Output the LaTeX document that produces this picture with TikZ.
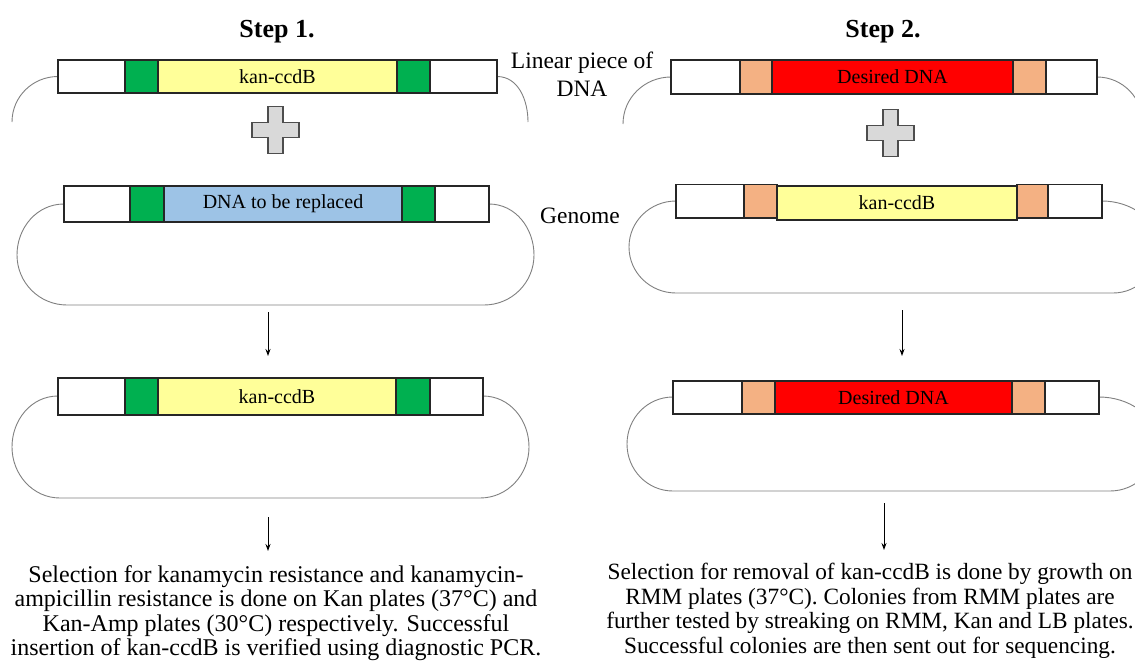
\documentclass[tikz,border=0pt]{standalone}
\usepackage{fontspec}
\setmainfont{Liberation Serif}
\usetikzlibrary{arrows.meta}
\definecolor{greenc}{HTML}{00B050}
\definecolor{yellowc}{HTML}{FFFF99}
\definecolor{bluec}{HTML}{9DC3E6}
\definecolor{tanc}{HTML}{F4B183}
\definecolor{redc}{HTML}{FF0000}
\definecolor{plusfill}{HTML}{D9D9D9}
\definecolor{plusline}{HTML}{4D4D4D}
\definecolor{segline}{HTML}{262626}
\definecolor{loopc}{HTML}{808080}
\newcommand\seg[7]{%
  \node[segbox, fill=#6, minimum width={(#3)-(#2)}, minimum height={(#5)-(#4)}]
    (#1) at ({((#2)+(#3))/2},{((#4)+(#5))/2}) {#7};}
\newcommand\plusshape[2]{%
  \draw[plusst] (#1-23.5,#2-7.5) -- (#1-7.5,#2-7.5) -- (#1-7.5,#2-23.5) -- (#1+7.5,#2-23.5)
    -- (#1+7.5,#2-7.5) -- (#1+23.5,#2-7.5) -- (#1+23.5,#2+7.5) -- (#1+7.5,#2+7.5)
    -- (#1+7.5,#2+23.5) -- (#1-7.5,#2+23.5) -- (#1-7.5,#2+7.5) -- (#1-23.5,#2+7.5) -- cycle;}
\begin{document}
\begin{tikzpicture}[x=1pt,y=-1pt,
  segbox/.style={draw=segline, line width=1.3pt, inner sep=0pt, outer sep=0pt, font=\fontsize{20}{22}\selectfont},
  loopline/.style={draw=loopc, line width=0.9pt},
  plusst/.style={draw=plusline, fill=plusfill, line width=1.3pt, line join=miter},
  arr/.style={draw=black, line width=1pt, -{Stealth[length=7pt,width=5pt]}},
  title/.style={font=\fontsize{26}{28}\selectfont\bfseries, anchor=base},
  side/.style={font=\fontsize{23.5}{27.5}\selectfont, align=center},
  caption/.style={font=\fontsize{24}{24.6}\selectfont, align=center, anchor=north, inner sep=0pt},
  captionb/.style={font=\fontsize{23.3}{24.6}\selectfont, align=center, anchor=north, inner sep=0pt}]
\useasboundingbox (0,0) rectangle (1135,667);
\fill[white] (0,0) rectangle (1135,667);

% titles
\node[title] (t1) at (277,37) {Step 1.};
\node[title] (t2) at (883,37) {Step 2.};
\node[side] (lin) at (582,74) {Linear piece of\\DNA};
\node[side] (gen) at (580,216) {Genome};

% ---------- Step 1, linear piece
\draw[loopline] (58,76.5) to[out=180,in=90] (12,122);
\draw[loopline] (497,76.5) to[out=0,in=90] (528,122);
\seg{s1a-l}{58}{125}{60}{93}{white}{}
\seg{s1a-fl}{125}{158}{60}{93}{greenc}{}
\seg{s1a-fr}{397}{430}{60}{93}{greenc}{}
\seg{s1a-r}{430}{497}{60}{93}{white}{}
\seg{s1a-m}{158}{397}{60}{93}{yellowc}{kan-ccdB}
\plusshape{275.5}{130}

% ---------- Step 1, genome
\draw[loopline] (64,204) to[out=180,in=90] (17,255) to[out=-90,in=180] (67,305)
  -- (484,305) to[out=0,in=-90] (534,255) to[out=90,in=0] (489,204);
\seg{s1b-l}{64}{130}{186}{222}{white}{}
\seg{s1b-fl}{130}{164}{186}{222}{greenc}{}
\seg{s1b-fr}{402}{435}{186}{222}{greenc}{}
\seg{s1b-r}{435}{489}{186}{222}{white}{}
\seg{s1b-m}{164}{402}{186}{222}{bluec}{DNA to be replaced}

\coordinate (a1s) at (268,312);
\coordinate (a1e) at (268,356);
\draw[arr] (a1s) -- (a1e);

% ---------- Step 1, result
\draw[loopline] (58,396) to[out=180,in=90] (12,447) to[out=-90,in=180] (60,498)
  -- (480,498) to[out=0,in=-90] (529,447) to[out=90,in=0] (483,396);
\seg{s1c-l}{58}{125}{378}{415}{white}{}
\seg{s1c-fl}{125}{158}{378}{415}{greenc}{}
\seg{s1c-fr}{396}{430}{378}{415}{greenc}{}
\seg{s1c-r}{430}{483}{378}{415}{white}{}
\seg{s1c-m}{158}{396}{378}{415}{yellowc}{kan-ccdB}

\coordinate (a2s) at (268,517);
\coordinate (a2e) at (268,551);
\draw[arr] (a2s) -- (a2e);

\node[caption] (c1) at (276,565) {Selection for kanamycin resistance and kanamycin-\\ampicillin resistance is done on Kan plates (37°C) and\\Kan-Amp plates (30°C) respectively. Successful\\insertion of kan-ccdB is verified using diagnostic PCR.};

% ---------- Step 2, linear piece
\draw[loopline] (671,77) to[out=180,in=90] (623,124);
\draw[loopline] (1097,77) to[out=0,in=90] (1143,124);
\seg{s2a-l}{671}{740}{60}{94}{white}{}
\seg{s2a-fl}{740}{772}{60}{94}{tanc}{}
\seg{s2a-fr}{1013}{1046}{60}{94}{tanc}{}
\seg{s2a-r}{1046}{1097}{60}{94}{white}{}
\seg{s2a-m}{772}{1013}{60}{94}{redc}{Desired DNA}
\plusshape{890.5}{133}

% ---------- Step 2, genome
\draw[loopline] (676,201) to[out=180,in=90] (629,247) to[out=-90,in=180] (676,293)
  -- (1113,293) to[out=0,in=-90] (1158,247) to[out=90,in=0] (1102,201);
\seg{s2b-l}{676}{744}{184.5}{218}{white}{}
\seg{s2b-fl}{744}{777}{184.5}{218}{tanc}{}
\seg{s2b-fr}{1017}{1048}{184.5}{218}{tanc}{}
\seg{s2b-r}{1048}{1102}{184.5}{218}{white}{}
\seg{s2b-m}{777}{1017}{186}{220}{yellowc}{kan-ccdB}

\coordinate (b1s) at (902,310);
\coordinate (b1e) at (902,356);
\draw[arr] (b1s) -- (b1e);

% ---------- Step 2, result
\draw[loopline] (673,397) to[out=180,in=90] (627,444) to[out=-90,in=180] (673,491)
  -- (1110,491) to[out=0,in=-90] (1157,444) to[out=90,in=0] (1099,397);
\seg{s2c-l}{673}{742}{381}{414}{white}{}
\seg{s2c-fl}{742}{775}{381}{414}{tanc}{}
\seg{s2c-fr}{1012}{1045}{381}{414}{tanc}{}
\seg{s2c-r}{1045}{1099}{381}{414}{white}{}
\seg{s2c-m}{775}{1012}{381}{414}{redc}{Desired DNA}

\coordinate (b2s) at (884,503);
\coordinate (b2e) at (884,550);
\draw[arr] (b2s) -- (b2e);

\node[captionb] (c2) at (870,563) {Selection for removal of kan-ccdB is done by growth on\\RMM plates (37°C). Colonies from RMM plates are\\further tested by streaking on RMM, Kan and LB plates.\\Successful colonies are then sent out for sequencing.};
\end{tikzpicture}
\end{document}
